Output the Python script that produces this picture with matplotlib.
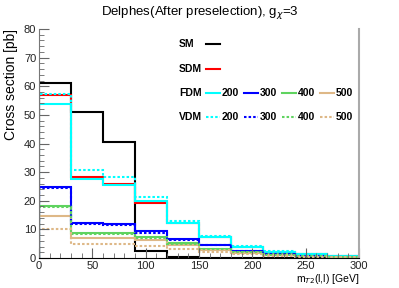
import matplotlib

matplotlib.use("Agg")
import matplotlib.pyplot as plt
from matplotlib.lines import Line2D
from matplotlib.ticker import MultipleLocator

plt.rcParams["font.family"] = ["Liberation Sans", "DejaVu Sans"]

# m_T2(l,l) bins [GeV]
bin_edges = [0, 30, 60, 90, 120, 150, 180, 210, 240, 270, 300]

sm = [61.0, 51.0, 40.6, 2.5, 0.3, 0.0, 0.0, 0.0, 0.0, 0.0]
sdm = [57.0, 28.2, 26.0, 19.1, 12.3, 7.3, 4.0, 2.2, 1.3, 0.7]

fdm_200 = [53.8, 27.6, 25.4, 19.8, 12.2, 7.4, 4.0, 2.2, 1.3, 0.7]
fdm_300 = [24.9, 12.1, 11.8, 9.6, 6.8, 4.5, 2.6, 1.5, 0.8, 0.5]
fdm_400 = [18.2, 8.9, 8.6, 7.3, 5.1, 3.3, 2.2, 1.3, 0.7, 0.4]
fdm_500 = [14.8, 7.1, 7.1, 6.3, 4.4, 2.8, 1.8, 1.1, 0.6, 0.3]

vdm_200 = [57.2, 30.7, 28.2, 21.4, 12.8, 7.6, 4.2, 2.3, 1.3, 0.7]
vdm_300 = [24.5, 12.0, 11.6, 8.9, 6.2, 4.5, 2.5, 1.4, 0.8, 0.5]
vdm_400 = [17.8, 8.5, 8.3, 7.0, 4.9, 3.1, 2.1, 1.2, 0.7, 0.4]
vdm_500 = [10.3, 5.0, 5.0, 4.3, 3.1, 2.0, 1.3, 0.8, 0.4, 0.2]

masses = ["200", "300", "400", "500"]
colors = ["#00ffff", "#0000ff", "#5fd35f", "#deb887"]
fdm = [fdm_200, fdm_300, fdm_400, fdm_500]
vdm = [vdm_200, vdm_300, vdm_400, vdm_500]

dot = (0, (1.2, 1.0))
lw = 1.5

fig = plt.figure(figsize=(3.99, 2.88), dpi=100)
ax = fig.add_axes([0.0977, 0.1042, 0.802, 0.795])

ax.stairs(sm, bin_edges, color="black", lw=lw)
ax.stairs(sdm, bin_edges, color="red", lw=lw)
for vals, c in zip(fdm, colors):
    ax.stairs(vals, bin_edges, color=c, lw=lw)
for vals, c in zip(vdm, colors):
    ax.stairs(vals, bin_edges, color=c, lw=lw, linestyle=dot)

ax.set_xlim(0, 300)
ax.set_ylim(0, 80)
ax.xaxis.set_major_locator(MultipleLocator(50))
ax.xaxis.set_minor_locator(MultipleLocator(10))
ax.yaxis.set_major_locator(MultipleLocator(10))
ax.yaxis.set_minor_locator(MultipleLocator(2))
ax.tick_params(which="both", direction="in", top=False, right=False,
               labelsize=8, pad=2, color="#666666", labelcolor="#222222")
ax.tick_params(which="major", length=7, width=0.8)
ax.tick_params(which="minor", length=3.5, width=0.6)
ax.spines["top"].set_visible(False)
ax.spines["right"].set_color("#aaaaaa")
ax.spines["right"].set_linewidth(1.5)
ax.spines["left"].set_color("#777777")
ax.spines["bottom"].set_color("black")

ax.set_ylabel("Cross section [pb]", fontsize=10, loc="top", labelpad=4)
ax.set_xlabel(r"m$_{T2}$(l,l) [GeV]", fontsize=7.5, loc="right", labelpad=1)
fig.text(0.5, 0.955, r"Delphes(After preselection), g$_{\chi}$=3",
         ha="center", va="center", fontsize=9.5)


# legend drawn by hand in figure coordinates
def fx(px):
    return px / 399


def fy(py):
    return 1 - py / 288


rows = [44, 69, 93, 117]
labels = ["SM", "SDM", "FDM", "VDM"]
for lab, r in zip(labels, rows):
    fig.text(fx(179), fy(r), lab, fontsize=7.5, fontweight="bold", va="center")
fig.add_artist(Line2D([fx(206), fx(220)], [fy(rows[0])] * 2, color="black", lw=lw))
fig.add_artist(Line2D([fx(206), fx(220)], [fy(rows[1])] * 2, color="red", lw=lw))
for i, (m, c) in enumerate(zip(masses, colors)):
    x0 = 206 + i * 38
    fig.add_artist(Line2D([fx(x0), fx(x0 + 14)], [fy(rows[2])] * 2, color=c, lw=lw))
    fig.add_artist(Line2D([fx(x0), fx(x0 + 14)], [fy(rows[3])] * 2, color=c, lw=lw,
                          linestyle=dot))
    fig.text(fx(x0 + 16), fy(rows[2]), m, fontsize=7.5, fontweight="bold", va="center")
    fig.text(fx(x0 + 16), fy(rows[3]), m, fontsize=7.5, fontweight="bold", va="center")

fig.savefig("out.png", dpi=100)
